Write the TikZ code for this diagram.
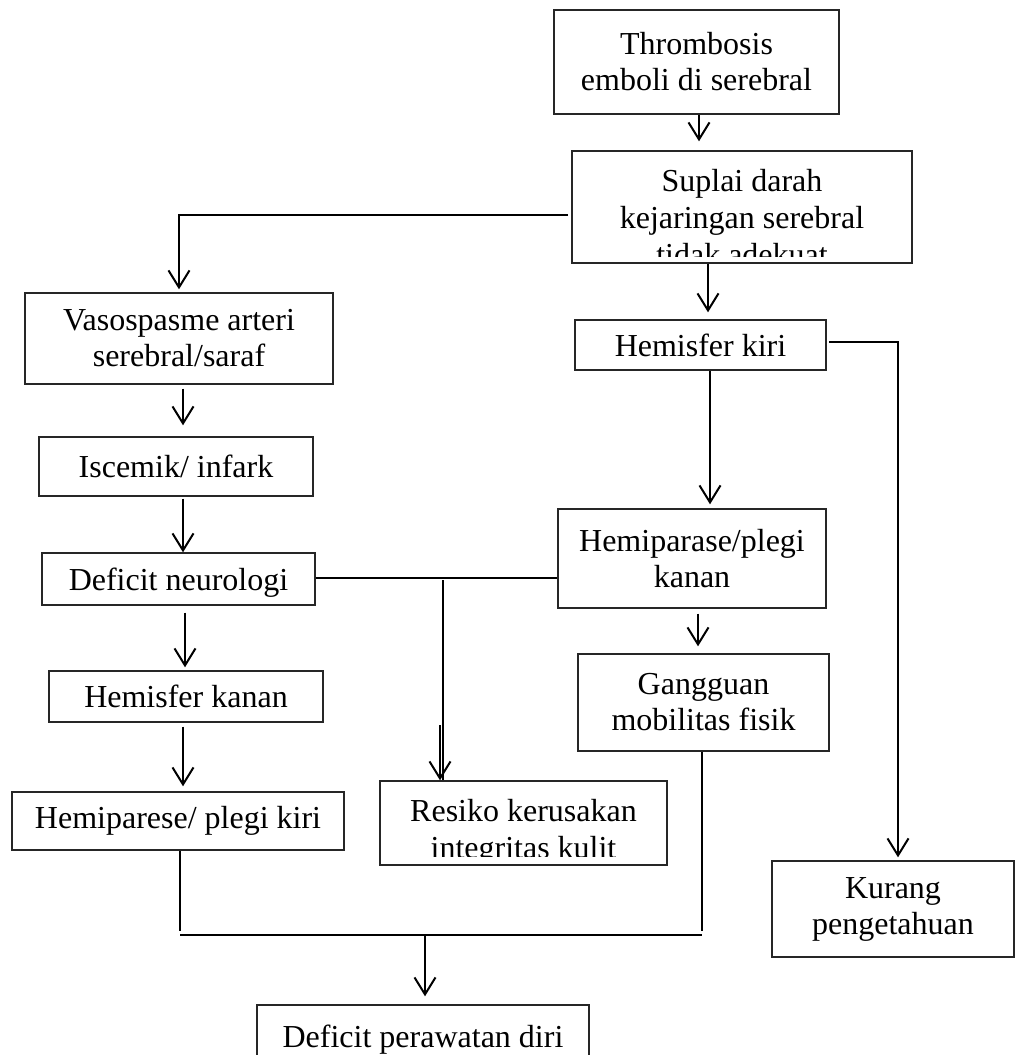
\documentclass[tikz,border=0pt]{standalone}
\usepackage{fontspec}
\setmainfont{Liberation Serif}
\usetikzlibrary{arrows.meta}
\begin{document}
\begin{tikzpicture}[x=0.5pt,y=-0.5pt,
  box/.style={draw=black!85,line width=0.7pt,inner sep=0pt,align=center,
    font=\fontsize{16pt}{18pt}\selectfont},
  txt/.style={inner sep=0pt,align=center,font=\fontsize{16pt}{18.5pt}\selectfont},
  con/.style={line width=1pt,black},
  arr/.style={con,-{Straight Barb[length=8.5pt,width=10.5pt,line width=1pt]}}]
\clip (0,0) rectangle (1016,1055);
\fill[white] (0,0) rectangle (1016,1055);
% boxes
\node[box,minimum width=142.5pt,minimum height=52pt] (thr) at (696.5,62) {Thrombosis\\emboli di serebral};
\node[box,minimum width=170pt,minimum height=56pt] (sup) at (742,207) {};
\begin{scope}
\clip (574,153) rectangle (910,256);
\node[txt] (suptxt) at (742,217.5) {Suplai darah\\kejaringan serebral\\tidak adekuat};
\end{scope}
\node[box,minimum width=154pt,minimum height=45.5pt] (vas) at (179,338.5) {Vasospasme arteri\\serebral/saraf};
\node[box,minimum width=137pt,minimum height=29.5pt] (isc) at (176,466.5) {Iscemik/ infark};
\node[box,minimum width=136.5pt,minimum height=26pt] (def) at (178.5,579) {};
\node[txt] (deftxt) at (178.5,583) {Deficit neurologi};
\node[box,minimum width=125.5pt,minimum height=25pt] (hki) at (700.5,345) {Hemisfer kiri};
\node[box,minimum width=134pt,minimum height=49.5pt] (hpk) at (692,558.5) {Hemiparase/plegi\\kanan};
\node[box,minimum width=125.5pt,minimum height=48.5pt] (gmf) at (703.5,702.5) {Gangguan\\mobilitas fisik};
\node[box,minimum width=137pt,minimum height=25.5pt] (hka) at (186,696.5) {Hemisfer kanan};
\node[box,minimum width=166pt,minimum height=29pt] (hpl) at (178,821) {Hemiparese/ plegi kiri};
\node[box,minimum width=143.5pt,minimum height=42pt] (res) at (523.5,823) {};
\begin{scope}
\clip (382,783) rectangle (665,856);
\node[txt] (restxt) at (523.5,832) {Resiko kerusakan\\integritas kulit};
\end{scope}
\node[box,minimum width=121pt,minimum height=48pt] (kur) at (893,909) {Kurang\\pengetahuan};
\node[box,minimum width=166pt,minimum height=40pt] (dpd) at (423,1045) {};
\node[txt] (dpdtxt) at (423,1040) {Deficit perawatan diri};
% connectors
\draw[arr,shorten >=4.5pt] (699,0 |- thr.south) -- (699,0 |- sup.north);
\draw[arr,shorten >=1.5pt] (568,215) -| (vas.north);
\draw[arr,shorten >=3.5pt] (708,0 |- sup.south) -- (708,0 |- hki.north);
\draw[arr,shorten >=2pt] (710,0 |- hki.south) -- (710,0 |- hpk.north);
\draw[arr,shorten >=1.5pt] (829,342) -| (898,0 |- kur.north);
\draw[arr,shorten <=2pt,shorten >=5.5pt] (183,0 |- vas.south) -- (183,0 |- isc.north);
\draw[arr,shorten <=1pt] (183,0 |- isc.south) -- (183,0 |- def.north);
\draw[arr,shorten <=3.5pt,shorten >=1.5pt] (185,0 |- def.south) -- (185,0 |- hka.north);
\draw[arr,shorten <=2pt,shorten >=2.5pt] (183,0 |- hka.south) -- (183,0 |- hpl.north);
\draw[con] (def.east |- 0,578) -- (hpk.west |- 0,578);
\draw[con] (443,580) -- (443,0 |- res.north);
\draw[arr] (440,725) -- (440,0 |- res.north);
\draw[arr,shorten <=2.5pt,shorten >=3.5pt] (698,0 |- hpk.south) -- (698,0 |- gmf.north);
\draw[con] (180,0 |- hpl.south) -- (180,931);
\draw[con] (702,0 |- gmf.south) -- (702,931);
\draw[con] (180,935) -- (702,935);
\draw[arr,shorten >=4pt] (425,935) -- (425,0 |- dpd.north);
\end{tikzpicture}
\end{document}
